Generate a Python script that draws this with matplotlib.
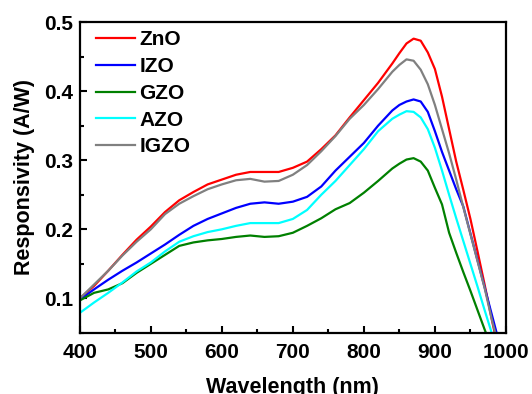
import numpy as np
import matplotlib
matplotlib.use("Agg")
import matplotlib.pyplot as plt
from matplotlib.ticker import MultipleLocator

# wavelength grid (nm)
wl = [400, 420, 440, 460, 480, 500, 520, 540, 560, 580, 600, 620, 640, 660, 680,
      700, 720, 740, 760, 780, 800, 820, 840, 850, 860, 870, 880, 890, 900, 910,
      920, 930, 940, 950, 960, 970, 980, 990]

# responsivity (A/W)
zno = [0.100, 0.118, 0.140, 0.163, 0.185, 0.204, 0.225, 0.242, 0.254, 0.265, 0.272, 0.279,
       0.283, 0.283, 0.283, 0.289, 0.298, 0.316, 0.336, 0.362, 0.387, 0.412, 0.440, 0.455,
       0.469, 0.476, 0.473, 0.456, 0.432, 0.392, 0.345, 0.298, 0.257, 0.215, 0.168, 0.120,
       0.070, 0.022]
izo = [0.098, 0.113, 0.127, 0.140, 0.152, 0.165, 0.178, 0.192, 0.205, 0.215, 0.223, 0.231,
       0.237, 0.239, 0.237, 0.240, 0.247, 0.262, 0.285, 0.305, 0.325, 0.350, 0.372, 0.380,
       0.385, 0.388, 0.385, 0.370, 0.342, 0.312, 0.285, 0.258, 0.233, 0.194, 0.155, 0.116,
       0.077, 0.038]
gzo = [0.097, 0.108, 0.113, 0.122, 0.137, 0.150, 0.163, 0.176, 0.181, 0.184, 0.186, 0.189,
       0.191, 0.189, 0.190, 0.195, 0.205, 0.216, 0.229, 0.238, 0.253, 0.270, 0.288, 0.295,
       0.301, 0.303, 0.298, 0.285, 0.260, 0.236, 0.195, 0.166, 0.138, 0.111, 0.083, 0.055,
       0.028, 0.000]
azo = [0.079, 0.094, 0.108, 0.123, 0.139, 0.152, 0.168, 0.182, 0.190, 0.196, 0.200, 0.205,
       0.209, 0.209, 0.209, 0.215, 0.228, 0.250, 0.270, 0.293, 0.316, 0.342, 0.360, 0.366,
       0.371, 0.370, 0.362, 0.345, 0.318, 0.285, 0.250, 0.216, 0.183, 0.150, 0.117, 0.083,
       0.050, 0.017]
igzo = [0.100, 0.120, 0.140, 0.162, 0.182, 0.200, 0.222, 0.237, 0.248, 0.258, 0.265, 0.271,
        0.273, 0.269, 0.270, 0.279, 0.293, 0.313, 0.335, 0.360, 0.380, 0.403, 0.428, 0.438,
        0.446, 0.444, 0.431, 0.410, 0.380, 0.345, 0.310, 0.272, 0.232, 0.193, 0.154, 0.115,
        0.070, 0.030]

labels = ["ZnO", "IZO", "GZO", "AZO", "IGZO"]
colors = ["#ff0000", "#0000ff", "#008000", "#00ffff", "#808080"]

plt.rcParams['font.family'] = ['Liberation Sans', 'DejaVu Sans']
plt.rcParams['font.weight'] = 'bold'

fig = plt.figure(figsize=(5.32, 3.94), dpi=100)
ax = fig.add_axes([0.150, 0.155, 0.801, 0.789])

for ys, lab, c in zip([zno, izo, gzo, azo, igzo], labels, colors):
    ax.plot(wl, ys, color=c, lw=1.6, label=lab)

ax.set_xlim(400, 1000)
ax.set_ylim(0.05, 0.5)
ax.xaxis.set_major_locator(MultipleLocator(100))
ax.xaxis.set_minor_locator(MultipleLocator(50))
ax.yaxis.set_minor_locator(MultipleLocator(0.05))
ax.set_yticks([0.1, 0.2, 0.3, 0.4, 0.5])
ax.tick_params(which='both', direction='in', top=False, right=False, width=1.5,
               labelsize=15)
ax.tick_params(which='major', length=5)
ax.tick_params(which='minor', length=3)
ax.tick_params(axis='x', pad=7)
ax.tick_params(axis='y', pad=5)
for s in ax.spines.values():
    s.set_linewidth(1.6)

ax.set_xlabel("Wavelength (nm)", fontsize=15.5, fontweight='bold', labelpad=11)
ax.set_ylabel("Responsivity (A/W)", fontsize=15.5, fontweight='bold', labelpad=6)

ax.legend(loc='upper left', bbox_to_anchor=(0.018, 1.0), frameon=False, fontsize=15,
          handlelength=1.9, handletextpad=0.2, labelspacing=0.37,
          borderaxespad=0.0)

fig.savefig("out.png", dpi=100)
